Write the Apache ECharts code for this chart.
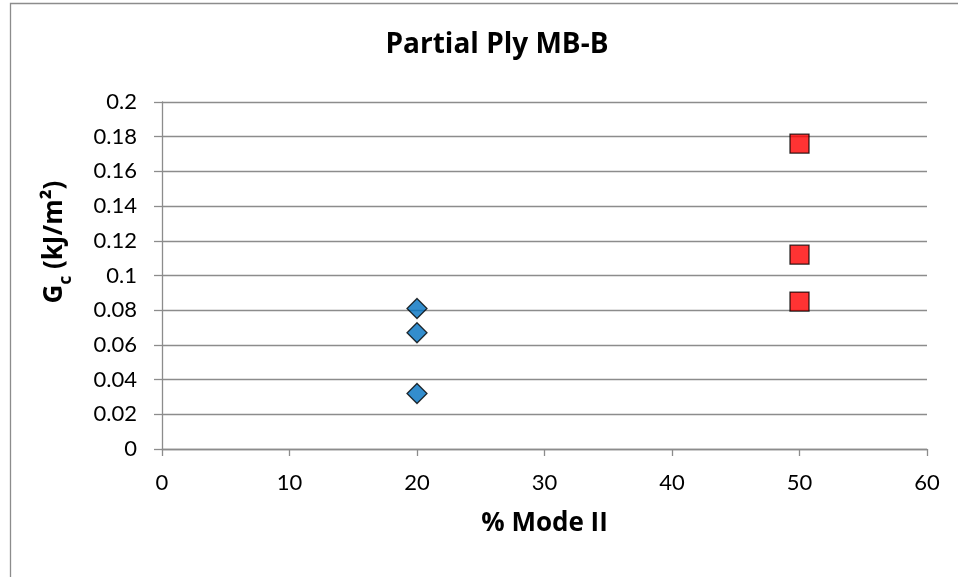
<!DOCTYPE html>
<html><head><meta charset="utf-8">
<script src="https://cdn.jsdelivr.net/npm/echarts@6/dist/echarts.min.js"></script>
<style>html,body{margin:0;padding:0;background:#fff}#c{width:958px;height:577px}</style>
</head><body><div id="c"></div>
<script>
const titleText = 'Partial Ply MB-B';
const xName = '% Mode II';
const seriesA_x = [20, 20, 20];
const seriesA_y = [0.081, 0.067, 0.032];
const seriesB_x = [50, 50, 50];
const seriesB_y = [0.176, 0.112, 0.085];

const font = 'Lato, "Open Sans", sans-serif';
const boldFont = '"Open Sans", Lato, sans-serif';
const chart = echarts.init(document.getElementById('c'), null, {renderer: 'canvas'});
chart.setOption({
  animation: false,
  backgroundColor: '#fff',
  title: {text: titleText, left: 492, top: 26, textAlign: 'center',
    textStyle: {fontFamily: boldFont, fontWeight: 'bold', fontSize: 28, color: '#000'}},
  grid: {left: 162, right: 31, top: 102, bottom: 128},
  graphic: [
    {type: 'rect', shape: {x: 10.5, y: 3.5, width: 960, height: 600},
     style: {fill: null, stroke: '#8c8c8c', lineWidth: 1.3}, silent: true},
    {type: 'text', x: 52, y: 242, rotation: Math.PI / 2,
     style: {text: '{g|G}{s|c}{g| (kJ/m²)}', align: 'center', verticalAlign: 'middle',
       rich: {
         g: {fontFamily: boldFont, fontWeight: 'bold', fontSize: 26, fill: '#000', verticalAlign: 'bottom', lineHeight: 32},
         s: {fontFamily: boldFont, fontWeight: 'bold', fontSize: 17, fill: '#000', verticalAlign: 'bottom', lineHeight: 32, padding: [0, 0, -7, 0]}}}}
  ],
  xAxis: {type: 'value', min: 0, max: 60, interval: 10,
    name: xName, nameLocation: 'middle', nameGap: 62,
    nameTextStyle: {fontFamily: boldFont, fontWeight: 'bold', fontSize: 26, color: '#000'},
    axisLine: {show: true, lineStyle: {color: '#8c8c8c', width: 1.3}},
    axisTick: {show: true, length: 7, lineStyle: {color: '#8c8c8c', width: 1.3}},
    axisLabel: {fontFamily: font, fontSize: 22, color: '#000', margin: 23},
    splitLine: {show: false}},
  yAxis: {type: 'value', min: 0, max: 0.2, interval: 0.02,
    axisLine: {show: true, lineStyle: {color: '#8c8c8c', width: 1.3}},
    axisTick: {show: true, inside: false, length: 8, lineStyle: {color: '#8c8c8c', width: 1.3}},
    axisLabel: {fontFamily: font, fontSize: 22, color: '#000', margin: 25,
      formatter: v => String(+v.toFixed(2))},
    splitLine: {show: true, lineStyle: {color: '#8c8c8c', width: 1.3}}},
  series: [
    {type: 'scatter', symbol: 'diamond', symbolSize: [20, 20],
     data: seriesA_x.map((x, i) => [x, seriesA_y[i]]),
     itemStyle: {color: '#0070c0', borderColor: '#000', borderWidth: 1.3}},
    {type: 'scatter', symbol: 'rect', symbolSize: [19, 19],
     data: seriesB_x.map((x, i) => [x, seriesB_y[i]]),
     itemStyle: {color: '#ff0000', borderColor: '#000', borderWidth: 1.3}}
  ]
});
</script></body></html>
